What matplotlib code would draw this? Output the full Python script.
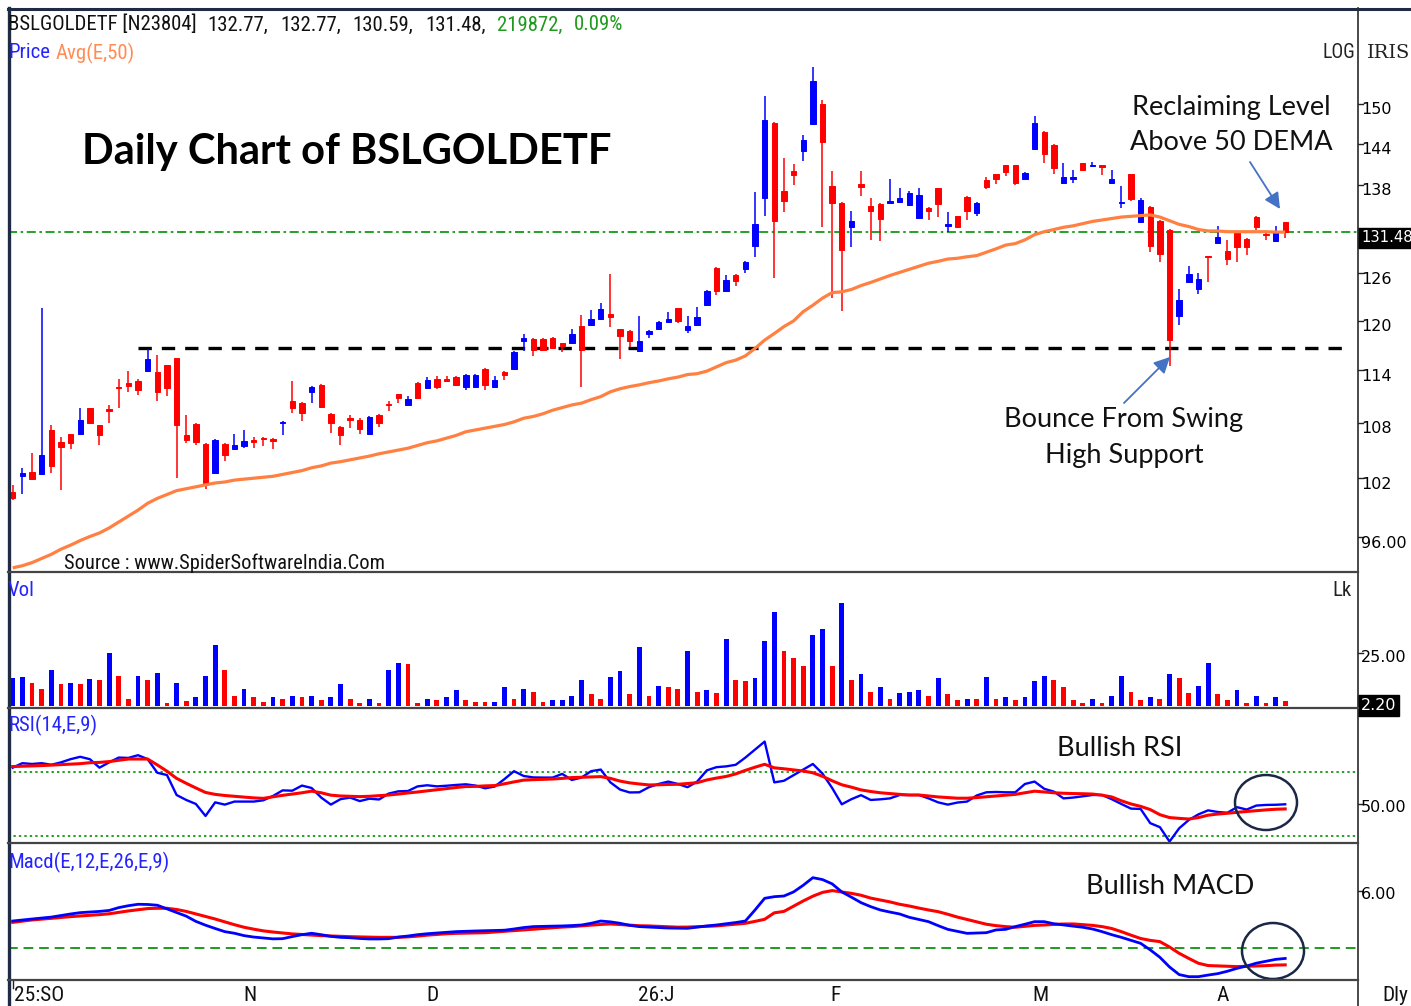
import matplotlib
matplotlib.use('Agg')
import matplotlib.pyplot as plt
import matplotlib.transforms as mtransforms
from matplotlib.patches import Ellipse, FancyArrowPatch
from matplotlib.lines import Line2D
from matplotlib.ticker import NullLocator
from matplotlib import font_manager as fm
import numpy as np

# ---------------- DATA ----------------
opens = [100.6,102.2,102.7,102.4,107.2,105.9,106.7,106.7,109.6,107.7,
         109.5,112.0,112.5,112.7,113.9,113.8,114.6,115.4,106.6,107.9,
         105.7,102.5,105.7,105.1,105.4,106.1,106.3,106.2,108.0,110.4,
         110.2,111.5,112.3,109.0,107.5,108.5,108.3,106.7,108.9,110.1,
         111.2,110.0,112.5,111.9,113.0,113.0,113.2,112.0,112.1,114.2,
         112.1,113.8,114.1,117.5,117.7,117.7,117.9,117.2,117.3,119.3,
         119.5,120.2,120.8,118.9,118.7,116.3,118.3,119.0,119.8,121.5,
         118.8,119.4,121.9,126.7,123.7,125.8,126.6,129.6,136.2,147.1,
         137.1,140.0,142.9,146.9,150.0,137.8,135.5,132.2,138.1,135.1,
         135.3,135.4,135.6,135.2,133.4,134.7,137.5,132.3,133.6,136.3,
         134.0,138.7,139.5,140.8,140.8,138.9,143.2,145.8,143.8,138.2,
         138.9,141.1,140.7,140.8,138.2,135.4,139.5,132.8,134.9,133.0,
         131.8,120.5,124.8,123.9,128.2,130.0,128.9,131.3,130.5,133.5,
         131.2,130.2,132.77]
highs = [101.3,103.1,104.7,121.5,107.7,106.4,106.8,109.7,109.7,107.8,
         110.0,113.0,113.9,113.0,116.5,115.8,114.6,115.5,108.9,108.0,
         105.8,106.2,105.8,106.7,107.2,106.4,106.4,106.3,108.2,112.8,
         110.3,112.2,112.4,109.1,107.6,108.9,108.5,108.8,109.0,110.4,
         111.3,111.0,112.6,113.2,113.3,113.3,113.3,113.6,113.6,114.3,
         113.3,113.9,116.3,118.3,117.8,117.8,118.0,117.3,119.0,120.7,
         121.3,122.2,125.9,119.0,118.8,120.5,118.8,119.9,121.0,121.6,
         120.5,121.7,123.8,126.8,125.8,125.9,127.6,137.0,151.3,147.2,
         141.9,141.0,145.3,155.8,150.6,140.0,135.6,134.4,140.0,136.1,
         135.4,138.8,137.5,137.2,137.6,134.9,137.6,134.2,133.7,136.4,
         135.6,139.1,139.6,140.9,140.9,139.8,148.2,145.9,143.9,141.1,
         140.1,141.2,141.3,140.9,140.1,137.8,139.6,136.2,135.0,133.1,
         131.9,123.9,126.9,126.0,128.3,132.3,130.4,131.4,130.6,133.6,
         131.4,132.3,132.77]
lows = [99.7,100.4,101.8,102.3,102.6,100.8,105.1,106.6,107.9,105.6,
        108.0,109.7,111.5,111.1,113.8,110.5,111.0,102.0,105.8,105.6,
        100.9,102.4,103.8,105.0,105.2,105.2,105.4,105.1,106.6,109.1,
        108.2,110.2,109.7,106.9,105.6,107.4,106.7,106.6,107.5,109.3,
        110.2,109.9,110.7,111.8,111.8,112.6,112.2,111.7,112.0,111.7,
        112.0,112.9,114.0,116.3,115.7,116.3,116.6,116.2,117.2,112.1,
        119.3,120.1,119.2,115.3,116.8,116.2,117.8,118.9,119.7,119.7,
        118.5,119.3,121.8,123.2,123.6,124.4,126.0,128.1,133.6,125.4,
        134.2,138.0,141.4,146.8,132.2,122.8,121.2,129.4,136.4,130.4,
        130.2,135.3,135.5,135.1,133.3,133.1,133.5,131.4,132.0,133.1,
        133.7,137.4,138.1,139.2,138.0,138.8,143.1,141.1,139.6,138.1,
        138.2,140.0,140.6,139.4,138.1,134.8,135.7,132.7,128.8,127.4,
        114.5,119.5,124.7,123.3,124.9,129.9,127.1,127.4,128.4,131.8,
        130.4,130.1,130.59]
closes = [99.9,102.5,101.9,104.5,103.3,105.3,105.8,108.3,108.0,106.6,
          109.3,111.9,112.2,111.7,115.3,111.5,111.9,107.7,106.1,105.9,
          101.5,106.1,104.5,105.6,106.0,105.9,106.2,106.0,108.1,109.7,
          109.1,112.1,109.8,108.0,106.6,108.3,107.3,108.6,108.0,110.0,
          110.8,110.7,110.8,112.9,112.0,112.8,112.3,113.5,113.5,112.3,
          112.9,113.5,116.2,117.9,116.4,116.4,116.7,116.9,118.3,116.4,
          120.2,121.4,120.4,118.1,117.5,117.5,118.7,119.8,120.2,120.0,
          119.3,120.4,123.7,123.7,125.1,125.0,127.4,132.6,147.5,132.9,
          135.7,139.4,144.5,153.6,144.3,135.4,129.0,132.9,137.7,134.3,
          133.3,135.7,136.2,136.8,136.6,134.3,135.3,132.6,132.1,134.3,
          135.5,137.7,138.8,139.8,138.3,139.7,147.1,142.4,140.4,139.1,
          139.1,140.1,140.8,140.6,138.9,135.6,136.0,135.9,129.6,128.5,
          117.6,122.5,125.9,125.2,128.1,130.8,127.8,129.5,129.4,132.2,
          131.1,131.4,131.48]
ema50 = [93.0,93.2,93.5,93.9,94.3,94.8,95.2,95.65,96.05,96.4,
         96.9,97.5,98.1,98.7,99.4,99.9,100.3,100.7,100.9,101.1,
         101.3,101.5,101.6,101.8,101.9,102.0,102.1,102.2,102.4,102.6,
         102.8,103.1,103.3,103.6,103.75,103.95,104.15,104.35,104.6,104.8,
         105.0,105.2,105.5,105.8,106.0,106.3,106.6,107.0,107.2,107.4,
         107.6,107.8,108.1,108.5,108.7,109.0,109.4,109.7,110.0,110.2,
         110.6,110.95,111.5,111.85,112.1,112.3,112.55,112.75,113.0,113.2,
         113.5,113.6,113.9,114.4,114.9,115.2,115.7,116.6,117.6,118.4,
         119.25,119.95,121.1,121.9,122.8,123.5,123.6,123.9,124.4,124.8,
         125.25,125.7,126.1,126.5,126.9,127.3,127.55,127.85,127.95,128.15,
         128.3,128.75,129.2,129.7,129.9,130.4,131.1,131.5,131.8,132.1,
         132.3,132.6,132.9,133.1,133.3,133.5,133.6,133.7,133.8,133.5,
         133.0,132.5,132.2,131.8,131.6,131.6,131.5,131.5,131.5,131.5,
         131.5,131.45,131.45]
volume_lakh = [13.0,13.5,10.7,8.2,17.0,10.2,10.7,10.2,12.9,12.2,
               25.2,14.1,3.3,14.1,12.2,15.6,1.3,10.7,2.5,4.1,
               14.1,28.6,17.0,4.7,8.2,4.1,1.9,4.1,3.3,4.7,
               4.1,4.7,2.7,4.1,10.2,3.3,1.3,3.3,1.3,17.0,
               20.5,19.7,1.3,3.3,2.7,4.1,7.5,2.7,1.9,1.9,
               1.9,8.8,3.3,8.2,6.8,1.9,2.7,2.7,4.7,12.2,
               5.5,3.3,13.5,16.4,5.5,28.0,4.7,9.4,8.8,8.2,
               25.8,6.8,7.5,6.0,31.4,12.2,11.6,13.0,30.7,44.4,
               25.9,22.5,19.0,33.3,36.1,19.0,48.5,12.2,14.9,6.8,
               8.8,3.3,6.0,6.8,7.5,4.7,13.0,5.5,2.7,3.3,
               3.3,13.5,3.3,4.1,2.7,4.1,11.6,14.3,12.2,8.8,
               2.7,1.3,3.3,1.3,4.7,14.3,6.8,2.7,4.1,3.3,
               14.9,13.0,6.0,9.4,20.5,5.5,2.7,7.5,1.3,4.7,
               1.3,4.1,2.2]
volume_up = [1,1,0,0,1,0,1,0,1,0,
             1,0,0,1,0,1,0,1,0,1,
             1,1,0,0,1,0,0,1,0,1,
             0,1,0,1,1,0,0,1,0,1,
             1,0,0,1,0,1,1,0,0,0,
             1,1,0,1,0,0,1,1,1,1,
             0,0,1,1,0,1,0,1,0,0,
             1,0,1,0,1,0,0,1,1,1,
             0,0,0,1,1,0,1,0,1,0,
             1,0,1,1,1,0,1,0,0,1,
             0,1,0,1,0,1,1,1,0,0,
             0,0,1,0,1,1,0,0,1,0,
             1,0,0,1,1,0,0,1,0,1,
             0,1,0]
rsi = [72.7,75.5,75.0,75.5,74.5,76.0,78.0,79.5,78.0,72.7,
       76.0,79.0,78.8,80.5,78.0,69.5,68.1,55.6,52.5,50.0,
       42.5,51.0,49.6,51.5,51.5,51.5,52.3,55.0,58.5,58.3,
       61.5,60.0,54.0,49.6,53.0,54.0,51.8,53.3,52.8,56.5,
       57.9,58.1,61.0,61.7,61.0,61.4,61.9,62.3,61.5,59.8,
       60.9,65.5,70.5,67.5,66.6,66.5,66.5,68.8,65.0,66.5,
       70.5,71.5,63.5,59.0,57.2,57.3,60.5,62.5,64.0,62.5,
       60.5,64.0,71.0,73.0,73.5,74.5,79.0,84.0,89.0,63.5,
       64.5,68.0,71.5,75.0,69.0,60.0,49.8,53.0,55.5,52.5,
       52.9,53.5,55.6,55.6,55.6,53.5,51.0,49.6,50.9,51.5,
       55.3,57.3,57.5,57.3,57.3,62.5,64.0,59.5,57.7,53.5,
       54.0,54.8,55.6,55.6,53.0,50.0,47.1,46.9,38.0,35.5,
       26.5,34.8,40.0,43.5,46.0,45.0,44.5,48.0,46.5,49.0,
       49.4,49.5,49.8]
rsi_signal = [73.4,73.6,73.8,74.0,74.3,74.6,74.9,75.2,75.8,76.0,
              76.5,77.3,78.1,78.1,78.1,74.4,70.5,66.0,62.9,60.0,
              57.2,56.0,55.3,54.8,54.3,53.8,53.5,54.5,55.4,56.2,
              57.0,58.0,57.0,55.5,55.0,54.8,54.6,54.8,55.2,55.6,
              56.2,56.9,57.5,58.2,58.9,59.6,60.3,60.9,61.0,61.3,
              61.5,62.6,63.8,64.9,65.2,65.4,65.6,66.0,66.5,66.7,
              66.9,67.1,66.0,64.3,63.2,62.5,61.9,62.0,62.2,62.3,
              62.8,63.3,65.0,66.2,67.2,68.8,71.0,73.0,74.8,72.6,
              72.0,71.3,70.6,69.5,67.3,64.5,62.0,60.5,58.8,57.8,
              57.0,56.5,56.0,55.6,55.6,55.0,54.4,54.0,53.6,53.6,
              54.0,54.5,55.0,55.5,56.0,57.0,58.0,57.5,57.0,56.7,
              56.5,56.4,56.2,55.5,54.4,52.0,50.0,48.5,46.5,43.3,
              41.5,41.0,40.6,41.5,43.0,43.7,44.2,44.8,45.3,45.8,
              46.3,46.7,46.9]
macd = [2.84,2.95,3.05,3.15,3.25,3.42,3.58,3.72,3.78,3.85,
        3.95,4.25,4.45,4.60,4.58,4.50,4.12,3.75,3.35,2.80,
        2.40,2.05,1.72,1.55,1.30,1.15,1.05,0.96,0.98,1.20,
        1.40,1.55,1.40,1.22,1.12,1.08,1.00,0.95,0.95,0.98,
        1.15,1.26,1.40,1.50,1.58,1.65,1.72,1.76,1.79,1.82,
        1.85,1.87,2.00,2.15,2.25,2.28,2.30,2.32,2.36,2.42,
        2.60,2.84,2.75,2.60,2.38,2.25,2.20,2.15,2.10,2.08,
        2.07,2.20,2.32,2.42,2.55,2.68,2.84,4.00,5.23,5.40,
        5.47,5.90,6.60,7.40,7.20,6.75,5.90,5.35,4.77,4.35,
        4.00,3.78,3.58,3.23,3.00,2.77,2.35,1.96,1.75,1.54,
        1.58,1.61,1.90,1.96,2.25,2.50,2.77,2.77,2.55,2.42,
        2.30,2.18,2.00,1.72,1.40,1.12,0.80,0.49,-0.20,-0.98,
        -2.00,-2.80,-3.02,-3.02,-2.85,-2.70,-2.45,-2.14,-1.90,-1.60,
        -1.40,-1.20,-1.10]
macd_signal = [2.70,2.82,2.95,3.03,3.12,3.21,3.30,3.37,3.44,3.51,
               3.60,3.75,3.90,4.02,4.15,4.18,4.18,4.05,3.85,3.58,
               3.30,3.05,2.75,2.45,2.18,1.98,1.80,1.68,1.58,1.48,
               1.42,1.36,1.30,1.26,1.22,1.19,1.16,1.14,1.12,1.12,
               1.12,1.17,1.25,1.35,1.43,1.50,1.54,1.56,1.58,1.61,
               1.68,1.75,1.82,1.90,1.98,2.07,2.13,2.20,2.25,2.33,
               2.40,2.48,2.53,2.47,2.40,2.34,2.32,2.27,2.23,2.19,
               2.20,2.24,2.28,2.32,2.41,2.50,2.60,2.80,3.02,3.70,
               3.85,4.40,4.95,5.45,5.85,6.04,5.90,5.75,5.55,5.25,
               5.05,4.85,4.60,4.42,4.20,4.00,3.82,3.55,3.25,3.00,
               2.75,2.50,2.35,2.25,2.18,2.28,2.38,2.42,2.48,2.52,
               2.53,2.45,2.38,2.25,2.05,1.72,1.35,1.00,0.80,0.67,
               0.10,-0.56,-1.10,-1.61,-1.85,-1.89,-1.92,-1.96,-1.93,-1.90,
               -1.86,-1.80,-1.78]
support_level = 116.6
last_close = 131.48
price_ticks = [150, 144, 138, 126, 120, 114, 108, 102, 96]
price_tick_labels = ['150', '144', '138', '126', '120', '114', '108', '102', '96.00']
month_labels = ['25:SO', 'N', 'D', '26:J', 'F', 'M', 'A', 'Dly']
month_pos = [0.1, 24.6, 43.5, 66.8, 85.4, 106.6, 125.5, 143.4]

# ---------------- FIGURE ----------------
W, H = 1411, 1006
fig = plt.figure(figsize=(W / 100, H / 100), dpi=100)
fig.patch.set_facecolor('white')
renderer = fig.canvas.get_renderer()


def find_narrow_file():
    prefs = ['Liberation Sans Narrow', 'Arial Narrow', 'Roboto Condensed',
             'Open Sans Condensed', 'Noto Sans Condensed', 'DejaVu Sans Condensed']
    ents = fm.fontManager.ttflist
    for p in prefs:
        for e in ents:
            if e.name == p and e.style == 'normal' and e.weight in (400, 'normal', 'regular', 'book'):
                return e.fname
    bad = ('bold', 'light', 'semi', 'extra', 'black', 'thin', 'medium', 'italic', 'oblique')
    for e in ents:
        key = (e.name + ' ' + e.fname).lower()
        if (('narrow' in key or 'condensed' in key or str(e.stretch) in ('condensed', 'semi-condensed'))
                and e.style == 'normal' and not any(b in key for b in bad)):
            return e.fname
    return None


NARROW_FILE = find_narrow_file()


def nfp(size):
    if NARROW_FILE:
        return fm.FontProperties(fname=NARROW_FILE, size=size)
    return fm.FontProperties(family='DejaVu Sans', size=size)


# calibrate narrow font size so that the header ticker spans ~189 px
_t = fig.text(0, 0, 'BSLGOLDETF [N23804]', fontproperties=nfp(15))
_w = _t.get_window_extent(renderer).width
_t.remove()
NS = 15 * 189.0 / _w  # base narrow size (pt)

UIF = ['Lato', 'DejaVu Sans']
AXF = ['DejaVu Sans']


def rect(x0, y0, x1, y1):
    return [x0 / W, 1 - y1 / H, (x1 - x0) / W, (y1 - y0) / H]


def ftxt(x, y, s, **kw):
    kw.setdefault('va', 'center')
    return fig.text(x / W, 1 - y / H, s, **kw)


ax_p = fig.add_axes(rect(8, 8, 1358, 572))
ax_v = fig.add_axes(rect(8, 572, 1358, 708))
ax_r = fig.add_axes(rect(8, 708, 1358, 843))
ax_m = fig.add_axes(rect(8, 843, 1358, 980))
for ax in (ax_p, ax_v, ax_r, ax_m):
    ax.set_xlim(-0.49, 139.55)
    ax.set_xticks([])
    for s in ax.spines.values():
        s.set_visible(False)

idx = np.arange(len(closes))
o = np.array(opens); hh = np.array(highs); ll = np.array(lows); c = np.array(closes)
up = c >= o
ccol = np.where(up, '#0000FF', '#FF0000')

# price panel
ax_p.set_yscale('log')
ax_p.set_ylim(92.6, 165.6)
ax_p.yaxis.set_major_locator(NullLocator())
ax_p.yaxis.set_minor_locator(NullLocator())
ax_p.axhline(last_close, color='#129a12', lw=1.3, dashes=(5, 2, 1.4, 2), zorder=1)
ax_p.plot([13.0, 138.2], [support_level, support_level], color='black', lw=2.4,
          dashes=(4.0, 3.0), zorder=2)
ax_p.vlines(idx, ll, hh, colors=ccol, lw=1.1, zorder=3)
blo = np.minimum(o, c); bhi = np.maximum(o, c)
ax_p.bar(idx, bhi - blo, bottom=blo, width=0.56, color=ccol, edgecolor=ccol,
         linewidth=0.7, zorder=3)
ax_p.plot(idx, ema50, color='#FF8040', lw=2.3, zorder=4, solid_capstyle='butt')

# volume panel
ax_v.set_ylim(-0.94, 63.2)
ax_v.set_yticks([])
vcol = ['#0000FF' if u else '#FF0000' for u in volume_up]
ax_v.bar(idx, volume_lakh, width=0.5, color=vcol, zorder=2)

# RSI panel
ax_r.set_ylim(25.6, 110)
ax_r.set_yticks([])
for lv in (70, 30):
    ax_r.axhline(lv, color='#22a022', lw=1.4, dashes=(1.2, 1.6), zorder=1)
ax_r.plot(idx, rsi, color='#0000FF', lw=1.7, zorder=2)
ax_r.plot(idx, rsi_signal, color='#FF0000', lw=2.2, zorder=3)

# MACD panel
ax_m.set_ylim(-3.37, 11.05)
ax_m.set_yticks([])
ax_m.axhline(0, color='#1f9a1f', lw=1.4, dashes=(5, 3), zorder=1)
ax_m.plot(idx, macd_signal, color='#FF0000', lw=2.2, zorder=2)
ax_m.plot(idx, macd, color='#0000FF', lw=2.0, zorder=3)


# right axis labels
def rlabel(ax, val, text, box=False, dy=-5, size=11.5):
    tr = mtransforms.offset_copy(ax.get_yaxis_transform(), fig=fig, x=3, y=dy, units='dots')
    kw = dict(transform=tr, ha='left', va='center', fontsize=size, family=AXF,
              clip_on=False, color='black')
    if box:
        kw['color'] = 'white'
        kw['bbox'] = dict(facecolor='black', edgecolor='black', pad=2.0)
    ax.text(1.0, val, text, **kw)
    if not box:
        ax.plot([1.0, 1.0035], [val, val], transform=ax.get_yaxis_transform(),
                color='#222222', lw=1.0, clip_on=False)


for v, t in zip(price_ticks, price_tick_labels):
    rlabel(ax_p, v, t, dy=-6)
rlabel(ax_p, last_close, '%.2f' % last_close, box=True, dy=-6, size=10.6)
rlabel(ax_v, 25, '25.00')
rlabel(ax_v, volume_lakh[-1], '%.2f' % volume_lakh[-1], box=True, dy=-4)
rlabel(ax_r, 50, '50.00', dy=-4)
rlabel(ax_m, 6, '6.00', dy=-4)

# month labels
btr = mtransforms.blended_transform_factory(ax_m.transData, ax_m.transAxes)
for p, t in zip(month_pos, month_labels):
    ax_m.text(p, -0.11, t, transform=btr, ha='left' if p < 1 else 'center', va='center',
              fontproperties=nfp(NS * 1.03), clip_on=False, color='#111111')
ax_m.plot([0, 0], [-0.005, -0.06], transform=btr, color='#222222', lw=1, clip_on=False)

# header texts
ftxt(8, 24, 'BSLGOLDETF [N23804]', fontproperties=nfp(NS), color='#111111')
for x, t in [(207, '132.77,'), (280, '132.77,'), (352, '130.59,'), (425, '131.48,')]:
    ftxt(x, 25, t, fontproperties=nfp(NS), color='#111111')
for x, t in [(497, '219872,'), (574, '0.09%')]:
    ftxt(x, 25, t, fontproperties=nfp(NS), color='#1f9a1f')
ftxt(8, 53, 'Price', fontproperties=nfp(NS), color='#2424FF')
ftxt(56, 53, 'Avg(E,50)', fontproperties=nfp(NS), color='#FF8C55')
ftxt(1355, 53, 'LOG', fontproperties=nfp(NS * 0.95), color='#222222', ha='right')
ftxt(1367, 53, 'IRIS', fontsize=14, family=['DejaVu Serif'], color='#222222', ha='left')
ftxt(64, 563, 'Source : www.SpiderSoftwareIndia.Com', fontproperties=nfp(NS * 0.985),
     color='#111111')
ftxt(8, 590, 'Vol', fontproperties=nfp(NS), color='#2424FF')
ftxt(1352, 590, 'Lk', fontproperties=nfp(NS), color='#222222', ha='right')
ftxt(8, 725, 'RSI(14,E,9)', fontproperties=nfp(NS), color='#2424FF')
ftxt(8, 862, 'Macd(E,12,E,26,E,9)', fontproperties=nfp(NS), color='#2424FF')

# title and annotations
ftxt(82, 152, 'Daily Chart of BSLGOLDETF', fontsize=30, family=UIF, weight='bold', color='black')
ftxt(1231, 108, 'Reclaiming Level', fontsize=19.5, family=UIF, color='#111111', ha='center')
ftxt(1231, 143, 'Above 50 DEMA', fontsize=19.5, family=UIF, color='#111111', ha='center')
ftxt(1124, 420, 'Bounce From Swing', fontsize=19.5, family=UIF, color='#111111', ha='center')
ftxt(1124, 455, 'High Support', fontsize=19.5, family=UIF, color='#111111', ha='center')
ftxt(1120, 749, 'Bullish RSI', fontsize=19.5, family=UIF, color='#111111', ha='center')
ftxt(1170, 886, 'Bullish MACD', fontsize=19.5, family=UIF, color='#111111', ha='center')

arrow_kw = dict(arrowstyle='-|>', color='#4472C4', lw=1.3, mutation_scale=24,
                shrinkA=0, shrinkB=0)
fig.add_artist(FancyArrowPatch((1250 / W, 1 - 162 / H), (1280 / W, 1 - 209 / H),
                               transform=fig.transFigure, **arrow_kw))
fig.add_artist(FancyArrowPatch((1124 / W, 1 - 403 / H), (1170 / W, 1 - 357 / H),
                               transform=fig.transFigure, **arrow_kw))

for cx, cy, w, h in [(1266, 802.5, 62, 55), (1273, 951, 62, 56)]:
    fig.add_artist(Ellipse((cx / W, 1 - cy / H), w / W, h / H, transform=fig.transFigure,
                           fill=False, ec='#1b2745', lw=1.8))


# frame lines
def fline(x0, y0, x1, y1, **kw):
    fig.add_artist(Line2D([x0 / W, x1 / W], [1 - y0 / H, 1 - y1 / H], transform=fig.transFigure, **kw))


fline(8, 8.5, 1411, 8.5, color='#1f2a44', lw=2.2)
fline(8.5, 8, 8.5, 1006, color='#1f2a44', lw=2.4)
fline(1358, 8, 1358, 1006, color='#2a2a2a', lw=1.2)
for yy in (572, 708, 843, 980):
    fline(8, yy, 1358, yy, color='#444444', lw=1.6)

fig.savefig('out.png', dpi=100, facecolor='white')
